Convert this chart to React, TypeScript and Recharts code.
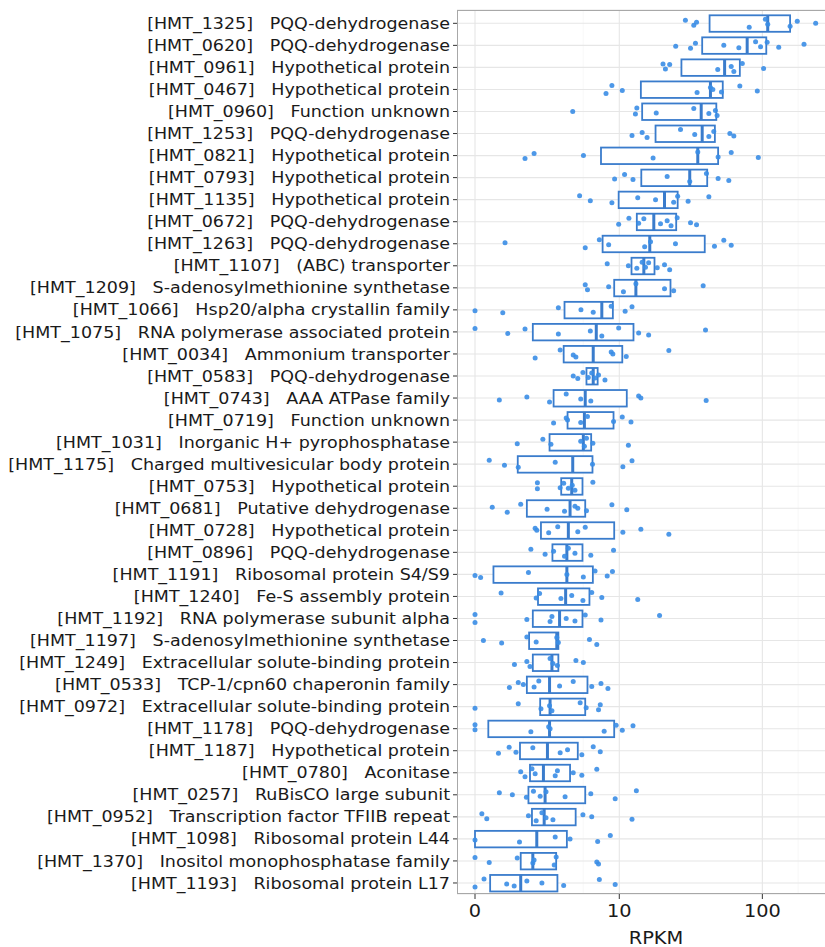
import React from "react";
import { ComposedChart, Bar, Scatter, XAxis, YAxis, CartesianGrid } from "recharts";

const GENES = [
  "HMT_1325", "HMT_0620", "HMT_0961", "HMT_0467", "HMT_0960", "HMT_1253", "HMT_0821", "HMT_0793",
  "HMT_1135", "HMT_0672", "HMT_1263", "HMT_1107", "HMT_1209", "HMT_1066", "HMT_1075", "HMT_0034",
  "HMT_0583", "HMT_0743", "HMT_0719", "HMT_1031", "HMT_1175", "HMT_0753", "HMT_0681", "HMT_0728",
  "HMT_0896", "HMT_1191", "HMT_1240", "HMT_1192", "HMT_1197", "HMT_1249", "HMT_0533", "HMT_0972",
  "HMT_1178", "HMT_1187", "HMT_0780", "HMT_0257", "HMT_0952", "HMT_1098", "HMT_1370", "HMT_1193",
];

const PRODUCTS = [
  "PQQ-dehydrogenase", "PQQ-dehydrogenase", "Hypothetical protein", "Hypothetical protein",
  "Function unknown", "PQQ-dehydrogenase", "Hypothetical protein", "Hypothetical protein",
  "Hypothetical protein", "PQQ-dehydrogenase", "PQQ-dehydrogenase", "(ABC) transporter",
  "S-adenosylmethionine synthetase", "Hsp20/alpha crystallin family", "RNA polymerase associated protein",
  "Ammonium transporter", "PQQ-dehydrogenase", "AAA ATPase family", "Function unknown",
  "Inorganic H+ pyrophosphatase", "Charged multivesicular body protein", "Hypothetical protein",
  "Putative dehydrogenase", "Hypothetical protein", "PQQ-dehydrogenase", "Ribosomal protein S4/S9",
  "Fe-S assembly protein", "RNA polymerase subunit alpha", "S-adenosylmethionine synthetase",
  "Extracellular solute-binding protein", "TCP-1/cpn60 chaperonin family",
  "Extracellular solute-binding protein", "PQQ-dehydrogenase", "Hypothetical protein", "Aconitase",
  "RuBisCO large subunit", "Transcription factor TFIIB repeat", "Ribosomal protein L44",
  "Inositol monophosphatase family", "Ribosomal protein L17",
];

// box statistics, RPKM
const Q1 = [42.9, 38.1, 27.3, 14.2, 14.5, 18.0, 7.4, 14.3, 9.9, 13.3, 7.6, 12.2, 9.2, 3.96, 2.13, 3.9, 5.8, 3.24, 4.18, 3.0,
  1.48, 3.73, 1.86, 2.53, 3.17, 0.6, 2.38, 2.13, 1.96, 2.13, 1.86, 2.49, 0.43, 1.57, 2.0, 1.93, 2.09, 0, 1.6, 0.49];
const MEDIAN = [109, 78.4, 54.6, 43.5, 37.5, 38.1, 35.5, 31.2, 20.8, 17.5, 16.4, 14.9, 13.1, 7.5, 6.84, 6.5, 6.5, 5.68, 5.6, 5.5,
  4.58, 4.5, 4.37, 4.24, 4.13, 4.13, 4.04, 3.62, 3.44, 3.14, 3.0, 3.03, 3.0, 2.88, 2.66, 2.75, 2.7, 2.32, 2.13, 1.6];
const Q3 = [156, 106.5, 69.7, 53, 47.8, 46.7, 49.2, 41.3, 25.7, 25.1, 39.7, 17.7, 22.9, 9.0, 12.6, 10.5, 7.0, 11.3, 9.1, 6.28,
  6.42, 5.42, 5.68, 9.2, 5.42, 6.46, 6.1, 5.42, 3.54, 3.54, 5.9, 5.68, 9.2, 5.0, 4.37, 5.68, 4.82, 4.13, 3.4, 3.48];

// individual samples, RPKM
const POINTS = [
  [29.1, 33.3, 34.8, 81, 105, 109, 156, 175, 235],
  [24.9, 31.6, 34.2, 53.9, 68.6, 89.7, 97.2, 108, 130, 195],
  [20.3, 21.1, 22.6, 48.9, 60.7, 63.3, 72.5, 102],
  [8.04, 8.86, 10.5, 35.1, 43.5, 45.2, 51.9, 69.7, 92.2],
  [4.58, 13.0, 13.3, 18.2, 33.3, 42.4, 47.1, 48.4],
  [12.3, 14.5, 15.7, 26.9, 33.8, 42.4, 45.9, 59.4, 63.3],
  [1.78, 2.19, 5.51, 17.3, 35.5, 49.2, 60.7, 93.7],
  [9.26, 10.9, 12.5, 21.7, 31.2, 40.8, 49.2, 58.4],
  [5.16, 6.19, 8.86, 13.5, 18.0, 24.1, 25.7, 30.4, 42.4],
  [9.9, 11.7, 13.7, 14.9, 19.5, 21.7, 23.1, 25.5, 31.6, 34.8],
  [1.0, 5.68, 7.2, 8.4, 15.1, 16.6, 24.8, 46.4, 53.9, 60.7],
  [8.2, 11.6, 13.3, 14.5, 15.3, 16.1, 18.5, 20.8, 22.6],
  [5.68, 5.9, 8.4, 10.7, 13.1, 20.8, 24.1, 38.7],
  [0, 0.92, 3.54, 5.28, 6.5, 8.76, 11.0, 12.3],
  [0, 1.1, 1.78, 3.54, 6.19, 7.5, 9.9, 13.7, 16.1, 40.2],
  [2.24, 3.66, 4.62, 4.84, 8.76, 9.0, 11.2, 22.3],
  [4.62, 5.0, 5.46, 5.98, 6.34, 6.7, 7.1, 7.9],
  [0.8, 1.86, 3.0, 4.08, 5.26, 6.24, 13.7, 14.2, 40.6],
  [3.24, 4.08, 4.18, 5.26, 5.9, 9.1, 10.5, 12.1],
  [1.46, 2.63, 3.08, 5.26, 5.6, 5.8, 6.46, 11.6],
  [0.46, 0.98, 1.5, 3.34, 6.42, 10.6, 12.3],
  [2.35, 2.35, 3.66, 3.9, 4.24, 4.54, 4.76, 6.46],
  [0.56, 1.08, 1.6, 2.86, 3.96, 4.76, 5.0, 5.8, 8.86, 11.3],
  [2.24, 2.32, 2.95, 3.5, 5.0, 5.68, 10.6, 14.2, 22.3],
  [2.04, 2.75, 3.24, 3.96, 4.24, 4.76, 6.24, 9.1],
  [0, 0.18, 1.93, 4.13, 5.5, 6.7, 8.2, 8.94],
  [0.86, 2.29, 2.46, 3.71, 4.5, 5.46, 6.34, 7.5, 13.5],
  [0, 0, 1.86, 3.03, 3.14, 4.08, 4.76, 5.68, 7.4, 19.2],
  [0.27, 0.88, 1.86, 2.29, 3.44, 3.54, 6.1, 6.9],
  [1.35, 1.86, 2.0, 3.03, 3.2, 3.48, 4.84, 5.5],
  [1.16, 1.5, 1.71, 2.19, 2.42, 3.62, 4.62, 6.34, 7.4, 8.3],
  [0, 1.5, 2.53, 3.0, 3.14, 5.21, 5.77, 7.1, 7.31],
  [0, 0, 2.04, 2.95, 3.03, 7.8, 9.5, 10.5, 12.5],
  [0.77, 1.15, 1.41, 2.13, 3.66, 4.18, 5.36, 6.5, 7.31],
  [1.6, 1.78, 2.09, 2.24, 3.34, 3.48, 4.62, 5.36, 6.9],
  [0.8, 1.27, 1.84, 2.16, 2.49, 2.8, 4.0, 6.24, 9.35, 13.2],
  [0.22, 0.38, 1.93, 2.29, 2.58, 2.8, 3.2, 5.46, 6.34, 12.3],
  [0, 1.55, 3.34, 4.37, 7.0, 8.63],
  [0, 0.46, 1.46, 2.13, 2.19, 3.28, 3.4, 6.9, 7.1],
  [0, 0.29, 1.06, 1.34, 1.86, 2.58, 3.9, 7.2, 9.35],
];

const TICK_VALUES = [0, 10, 100];

// pseudo-log axis (asinh), same shape as ggplot's pseudo_log_trans
const tr = (v: number) => Math.asinh(v / 2);
const T10 = tr(10);
const T100 = tr(100);
const MAJOR = [0, T10 / 2, T10, (T10 + T100) / 2, T100];
const MINOR = [...MAJOR.slice(1).map((m, i) => (m + MAJOR[i]) / 2), T100 + (T100 - MAJOR[3]) / 2];
const DOMAIN: [number, number] = [-0.2885, 6.09];

const BOX = "#3a7ccc";
const DOT = "#3a8de6";
const JITTER = [-3, 2, -1, 4, -4, 1, 3, -2, 0, 2.5, -3.5, 1.5];

const labels = GENES.map((g, i) => `[${g}]   ${PRODUCTS[i]}`);

const rows = labels.map((name, i) => ({
  name,
  box: [tr(Q1[i]), tr(Q3[i])],
  t1: tr(Q1[i]),
  tm: tr(MEDIAN[i]),
  t3: tr(Q3[i]),
}));

const dots = POINTS.flatMap((pts, i) =>
  pts.map((v, j) => ({ name: labels[i], v: tr(v), k: i * 5 + j }))
);

const BoxShape = (props: any) => {
  const { x, y, width, height, payload } = props;
  const span = payload.t3 - payload.t1;
  const mx = x + (span > 0 ? (width * (payload.tm - payload.t1)) / span : 0);
  return (
    <g>
      <rect x={x} y={y} width={width} height={height} fill="#ffffff" stroke={BOX} strokeWidth={1.8} />
      <line x1={mx} x2={mx} y1={y} y2={y + height} stroke={BOX} strokeWidth={3} />
    </g>
  );
};

const Dot = (props: any) => {
  const { cx, cy, payload } = props;
  if (cx == null || cy == null) return null;
  return <circle cx={cx} cy={cy + JITTER[payload.k % JITTER.length]} r={2.5} fill={DOT} fillOpacity={0.9} />;
};

const YTick = (props: any) => {
  const { x, y, payload } = props;
  return (
    <g transform={`translate(${x},${y}) scale(1.13,1)`}>
      <text
        textAnchor="end"
        dy="0.36em"
        fontFamily="DejaVu Sans"
        fontSize={15.5}
        fill="#1a1a1a"
        xmlSpace="preserve"
        style={{ whiteSpace: "pre" }}
      >
        {payload.value}
      </text>
    </g>
  );
};

const XTick = (props: any) => {
  const { x, y, payload } = props;
  const idx = TICK_VALUES.findIndex((t) => Math.abs(tr(t) - payload.value) < 1e-6);
  if (idx < 0) return null;
  return (
    <g transform={`translate(${x},${y}) scale(1.11,1)`}>
      <text textAnchor="middle" dy={16} fontFamily="DejaVu Sans" fontSize={17.4} fill="#1a1a1a">
        {TICK_VALUES[idx]}
      </text>
    </g>
  );
};

const XLabel = (props: any) => {
  const { viewBox } = props;
  const cx = viewBox.x + viewBox.width / 2;
  return (
    <g transform={`translate(${cx},${viewBox.y + 50}) scale(1.11,1)`}>
      <text textAnchor="middle" fontFamily="DejaVu Sans" fontSize={17.5} fill="#1a1a1a">
        RPKM
      </text>
    </g>
  );
};

export default function App() {
  return (
    <div style={{ position: "absolute", left: 0, top: 0, width: 825, height: 947, overflow: "hidden", background: "#fff" }}>
      <ComposedChart
        width={855}
        height={947}
        layout="vertical"
        data={rows}
        margin={{ top: 10, right: 0, bottom: 0, left: 0 }}
      >
        <CartesianGrid verticalValues={MINOR} horizontal={false} stroke="#f3f3f3" strokeWidth={0.7} />
        <CartesianGrid verticalValues={MAJOR} stroke="#e6e6e6" strokeWidth={1.1} />
        <XAxis
          type="number"
          domain={DOMAIN}
          allowDataOverflow
          ticks={MAJOR}
          tick={<XTick />}
          tickSize={5}
          tickLine={{ stroke: "#333" }}
          axisLine={false}
          height={53}
          label={<XLabel />}
        />
        <YAxis
          type="category"
          dataKey="name"
          allowDuplicatedCategory={false}
          width={457}
          tick={<YTick />}
          tickSize={4}
          tickMargin={3}
          tickLine={{ stroke: "#333" }}
          axisLine={false}
          padding={{ top: 2.3, bottom: 0 }}
          interval={0}
        />
        <Bar dataKey="box" barSize={16.5} shape={<BoxShape />} isAnimationActive={false} />
        <Scatter data={dots} dataKey="v" shape={<Dot />} isAnimationActive={false} />
      </ComposedChart>
      <div
        style={{
          position: "absolute",
          left: 456.5,
          top: 10,
          width: 420,
          height: 884,
          border: "1.2px solid #a8a8a8",
          boxSizing: "border-box",
          pointerEvents: "none",
        }}
      />
    </div>
  );
}
